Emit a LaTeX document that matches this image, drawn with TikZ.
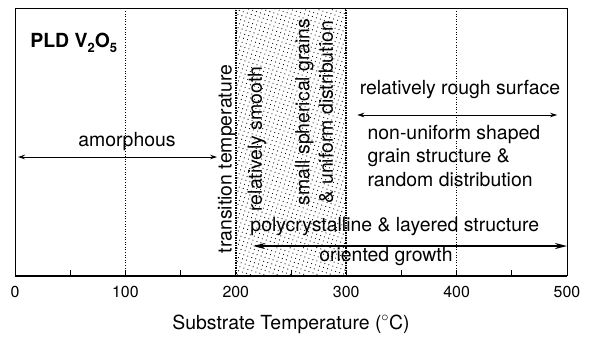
\documentclass[tikz,border=0pt]{standalone}
\usepackage{fontspec}
\setmainfont{TeX Gyre Heros}
\usetikzlibrary{arrows.meta,patterns.meta}

\newcommand{\lowsub}[1]{\raisebox{-0.45ex}{\fontsize{13}{13}\selectfont #1}}

\begin{document}
\begin{tikzpicture}[x=1.104bp,y=1bp,line width=0.8bp,>={Stealth[length=7bp,width=4.5bp]},
  lab/.style={font=\fontsize{19.5}{23.5}\selectfont,inner sep=0pt},
  ticklab/.style={font=\fontsize{16}{19}\selectfont,inner sep=0pt},
  gridline/.style={dotted,line width=0.6bp}]
\useasboundingbox (-13.59,-63) rectangle (519.9,276);
% 过渡区（点阵填充）
\fill[pattern={Dots[distance=4.2bp,angle=72,radius=0.6bp]}] (200,0) rectangle (300,268);
\draw[densely dotted,line width=1.5bp] (200,0) -- (200,268) (300,0) -- (300,268);
% 网格线
\draw[gridline] (100,0) -- (100,268) (400,0) -- (400,268);
% 边框与横轴
\draw (0,0) -- (0,268) -- (500,268) -- (500,0);
\draw[line width=1.6bp] (0,0) -- (500,0);
\foreach \t in {50,100,...,450} \draw (\t,0) -- (\t,6);
\foreach \t in {0,100,...,500} \node[ticklab] (t\t) at (\t,-16) {\t};
\node[lab] (xlab) at (250,-48) {Substrate Temperature ($^{\circ}$C)};
% 标题
\node[lab,anchor=west,font=\fontsize{19.5}{23.5}\selectfont\bfseries] (title) at (13.6,233)
  {PLD V\lowsub{2}O\lowsub{5}};
% 非晶区
\node[lab] (amorph) at (101.4,134) {amorphous};
\coordinate (amL) at (2.7,119);
\coordinate (amR) at (183,119);
\draw[<->] (amL) -- (amR);
% 竖排文字
\node[lab,rotate=90] (trans) at (192,117) {transition temperature};
\node[lab,rotate=90] (smooth) at (219,137) {relatively smooth};
\node[lab,rotate=90,align=center] (grains) at (271,164)
  {small spherical grains\\ \& uniform distribution};
% 粗糙表面区
\node[lab] (rough) at (403,186) {relatively rough surface};
\coordinate (roL) at (310,161);
\coordinate (roR) at (491,161);
\draw[<->] (roL) -- (roR);
\node[lab,anchor=west,align=left] (nonuni) at (319,120)
  {non-uniform shaped\\grain structure \&\\random distribution};
% 多晶层状结构（粗箭头）
\node[lab] (poly) at (344,49) {polycrystalline \& layered structure};
\coordinate (poL) at (215.6,30);
\coordinate (poR) at (500,30);
\draw[{Stealth[length=12bp,width=6bp]}-{Stealth[length=12bp,width=6bp]},line width=2.4bp] (poL) -- (poR);
\node[lab] (orient) at (336,19) {oriented growth};
\end{tikzpicture}
\end{document}
